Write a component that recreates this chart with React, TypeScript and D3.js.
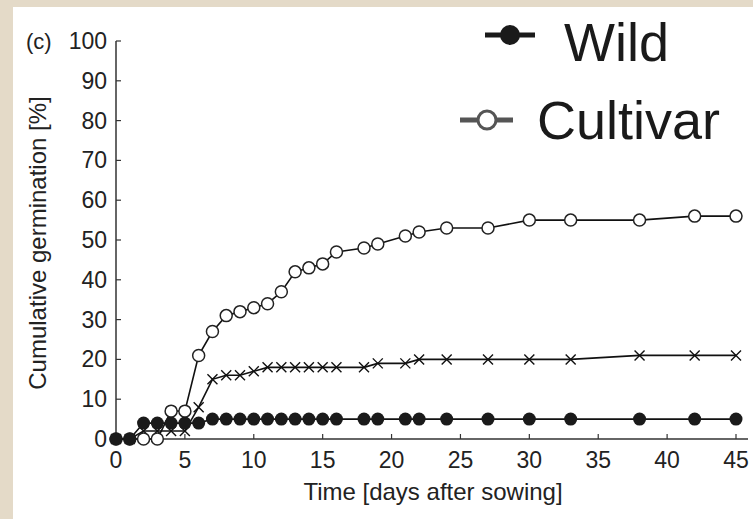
import React from 'react'
import * as d3 from 'd3'

const days = [0, 1, 2, 3, 4, 5, 6, 7, 8, 9, 10, 11, 12, 13, 14, 15, 16, 18, 19, 21, 22, 24, 27, 30, 33, 38, 42, 45]
const wild = [0, 0, 4, 4, 4, 4, 4, 5, 5, 5, 5, 5, 5, 5, 5, 5, 5, 5, 5, 5, 5, 5, 5, 5, 5, 5, 5, 5]
const cultivar = [0, 0, 0, 0, 7, 7, 21, 27, 31, 32, 33, 34, 37, 42, 43, 44, 47, 48, 49, 51, 52, 53, 53, 55, 55, 55, 56, 56]
const crossed = [0, 0, 2, 2, 2, 2, 8, 15, 16, 16, 17, 18, 18, 18, 18, 18, 18, 18, 19, 19, 20, 20, 20, 20, 20, 21, 21, 21]
const xTicks = [0, 5, 10, 15, 20, 25, 30, 35, 40, 45]
const yTicks = [0, 10, 20, 30, 40, 50, 60, 70, 80, 90, 100]
const legendLabels = ['Wild', 'Cultivar']

const W = 753
const H = 519
const font = 'Liberation Sans, Arial, Helvetica, sans-serif'

export default function App() {
    const x = d3.scaleLinear().domain([0, 45]).range([116, 736])
    const y = d3.scaleLinear().domain([0, 100]).range([439, 41])
    const line = d3.line<number>().x((_, i) => x(days[i])).y(d => y(d))

    return (
        <div style={{ position: 'absolute', left: 0, top: 0 }}>
            <svg width={W} height={H} style={{ display: 'block' }}>
                <rect x={0} y={0} width={W} height={H} fill="#e4dac8" />
                <rect x={13} y={7} width={W - 13} height={H - 7} fill="#fff" />

                {/* axes */}
                <line x1={x(0)} x2={748} y1={y(0)} y2={y(0)} stroke="#333" strokeWidth={1.5} />
                <line x1={x(0)} x2={x(0)} y1={y(0)} y2={y(100)} stroke="#333" strokeWidth={1.5} />
                {xTicks.map(t => (
                    <g key={'x' + t}>
                        <line x1={x(t)} x2={x(t)} y1={y(0)} y2={y(0) - 5} stroke="#333" strokeWidth={1.2} />
                        <text x={x(t)} y={468} fontSize={23} textAnchor="middle" fill="#222" fontFamily={font}>{t}</text>
                    </g>
                ))}
                {yTicks.map(t => (
                    <g key={'y' + t}>
                        <line x1={x(0)} x2={x(0) + 5} y1={y(t)} y2={y(t)} stroke="#333" strokeWidth={1.2} />
                        <text x={107} y={y(t)} dy="0.35em" fontSize={23} textAnchor="end" fill="#222" fontFamily={font}>{t}</text>
                    </g>
                ))}
                <text x={26} y={y(100)} dy="0.35em" fontSize={22} fill="#222" fontFamily={font}>(c)</text>
                <text x={433} y={500} fontSize={24} textAnchor="middle" fill="#222" fontFamily={font}>Time [days after sowing]</text>
                <text transform={`translate(46,243) rotate(-90)`} fontSize={24} textAnchor="middle" fill="#222" fontFamily={font}>Cumulative germination [%]</text>

                {/* crosses series */}
                <path d={line(crossed) || ''} fill="none" stroke="#111" strokeWidth={1.6} />
                {crossed.map((v, i) => (
                    <path key={'c' + i} d={`M${x(days[i]) - 5},${y(v) - 5}L${x(days[i]) + 5},${y(v) + 5}M${x(days[i]) - 5},${y(v) + 5}L${x(days[i]) + 5},${y(v) - 5}`} stroke="#111" strokeWidth={1.4} />
                ))}

                {/* cultivar */}
                <path d={line(cultivar) || ''} fill="none" stroke="#111" strokeWidth={1.6} />
                {cultivar.map((v, i) => (
                    <circle key={'o' + i} cx={x(days[i])} cy={y(v)} r={6} fill="#fff" stroke="#222" strokeWidth={1.5} />
                ))}

                {/* wild */}
                <path d={line(wild) || ''} fill="none" stroke="#111" strokeWidth={1.6} />
                {wild.map((v, i) => (
                    <circle key={'w' + i} cx={x(days[i])} cy={y(v)} r={6.5} fill="#1a1a1a" />
                ))}

                {/* legend */}
                <g fontFamily={font} fill="#1a1a1a">
                    <line x1={485} x2={535} y1={35} y2={35} stroke="#1a1a1a" strokeWidth={5} />
                    <circle cx={510} cy={35} r={10} fill="#1a1a1a" />
                    <text x={564} y={61} fontSize={54}>{legendLabels[0]}</text>
                    <line x1={460} x2={513} y1={120} y2={120} stroke="#555" strokeWidth={5} />
                    <circle cx={487} cy={120} r={9} fill="#fff" stroke="#555" strokeWidth={3} />
                    <text x={537} y={139} fontSize={54}>{legendLabels[1]}</text>
                </g>
            </svg>
        </div>
    )
}
